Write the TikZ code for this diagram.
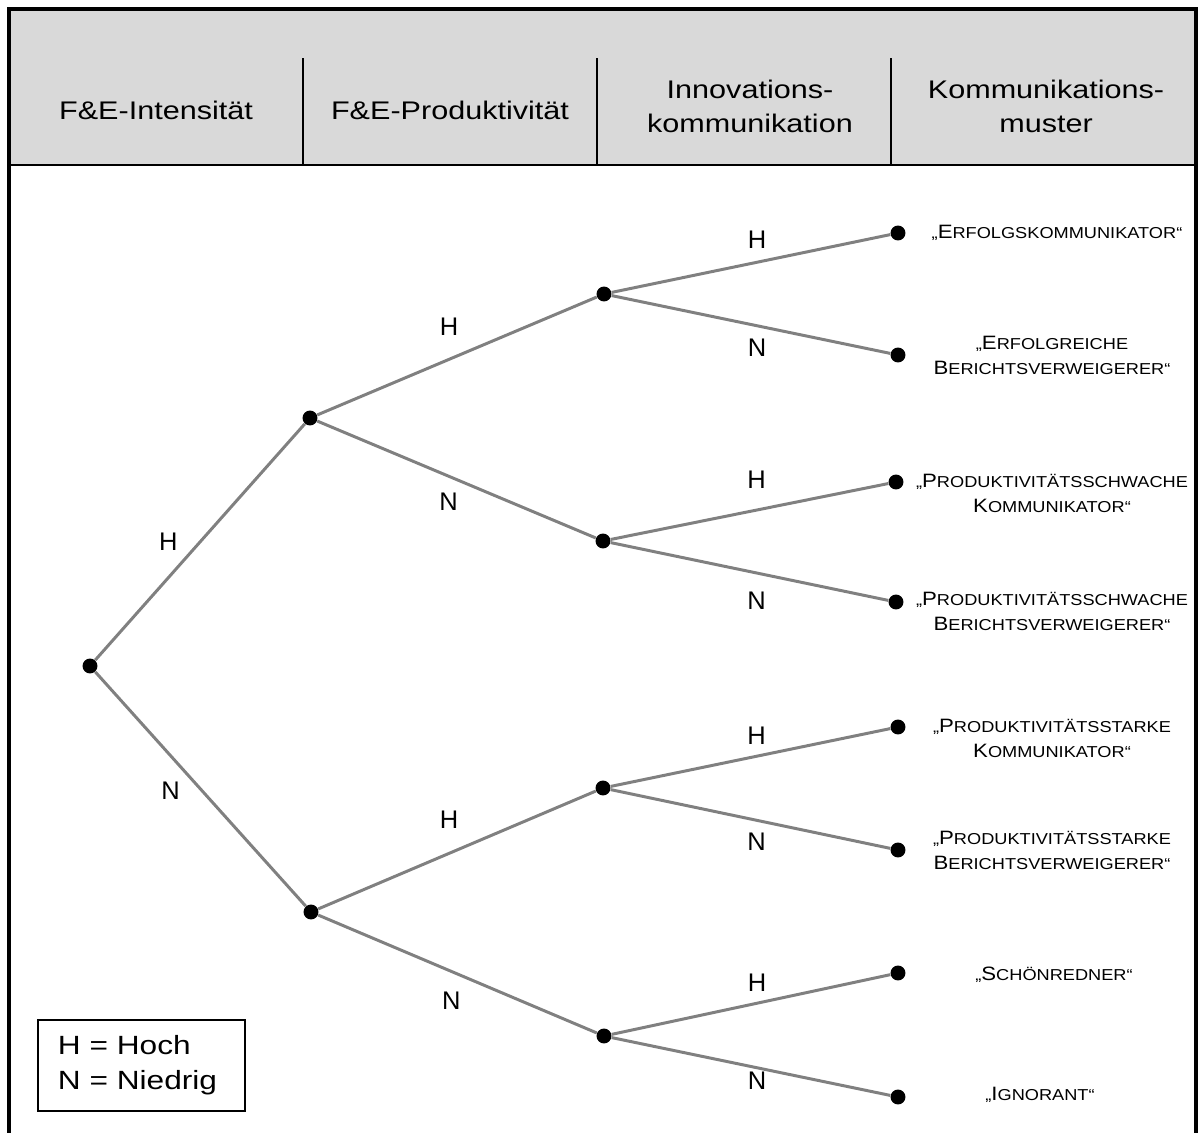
\documentclass[tikz,border=0pt]{standalone}
\usepackage{fontspec}
\setmainfont{Liberation Sans}
\newfontfamily\widefont[FakeStretch=1.2]{Liberation Sans}
\newfontfamily\capsfont[FakeStretch=1.15]{Liberation Sans}
\usetikzlibrary{positioning}

\definecolor{headgray}{RGB}{217,217,217}
\definecolor{branchgray}{RGB}{128,128,128}

\newcommand{\gross}[1]{{\fontsize{11pt}{14pt}\selectfont #1}}

\tikzset{
	dot/.style={circle,fill=black,inner sep=0pt,minimum size=8.5pt},
	branch/.style={draw=branchgray,line width=1.7pt},
	lbl/.style={font=\fontsize{14.5pt}{16pt}\selectfont,inner sep=0pt},
	head/.style={font=\widefont\fontsize{14.5pt}{19.3pt}\selectfont,align=center},
	leaf/.style={font=\capsfont\fontsize{9pt}{14.2pt}\selectfont,align=center,inner sep=0pt},
}

\begin{document}
\begin{tikzpicture}[x=0.2mm,y=-0.2mm]
	\useasboundingbox (0,0) rectangle (1199,1133);
	%
	\fill[headgray] (9,9) rectangle (1196,165);
	\draw[line width=2pt] (9,1150) -- (9,9) -- (1196,9) -- (1196,1150);
	\draw[line width=1.6pt] (9,165) -- (1196,165);
	\draw[line width=1.1pt] (303,58) -- (303,165);
	\draw[line width=1.1pt] (597,58) -- (597,165);
	\draw[line width=1.1pt] (891,58) -- (891,165);
	%
	\node[head] (h1) at (156,110) {F\&E-Intensität};
	\node[head] (h2) at (450,110) {F\&E-Produktivität};
	\node[head] (h3) at (750,106) {Innovations-\\kommunikation};
	\node[head] (h4) at (1046,106) {Kommunikations-\\muster};
	%
	\node[dot] (r0) at (90,666) {};
	\node[dot] (a1) at (310,418) {};
	\node[dot] (a2) at (311,912) {};
	\node[dot] (b1) at (604,294) {};
	\node[dot] (b2) at (603,541) {};
	\node[dot] (b3) at (603,788) {};
	\node[dot] (b4) at (604,1036) {};
	\node[dot] (c1) at (898,233) {};
	\node[dot] (c2) at (898,355) {};
	\node[dot] (c3) at (896,482) {};
	\node[dot] (c4) at (896,602) {};
	\node[dot] (c5) at (898,727) {};
	\node[dot] (c6) at (898,850) {};
	\node[dot] (c7) at (898,973) {};
	\node[dot] (c8) at (898,1097) {};
	%
	\draw[branch] (r0) -- node[lbl,xshift=-18pt] {H} (a1);
	\draw[branch] (r0) -- node[lbl,xshift=-17pt,yshift=-1pt] {N} (a2);
	\draw[branch] (a1) -- node[lbl,xshift=-4.5pt,yshift=16.5pt] {H} (b1);
	\draw[branch] (a1) -- node[lbl,xshift=-4.5pt,yshift=-12.5pt] {N} (b2);
	\draw[branch] (a2) -- node[lbl,xshift=-4.5pt,yshift=17pt] {H} (b3);
	\draw[branch] (a2) -- node[lbl,xshift=-3.5pt,yshift=-15pt] {N} (b4);
	\draw[branch] (b1) -- node[lbl,xshift=3.5pt,yshift=13.3pt] {H} (c1);
	\draw[branch] (b1) -- node[lbl,xshift=3.5pt,yshift=-13.3pt] {N} (c2);
	\draw[branch] (b2) -- node[lbl,xshift=4pt,yshift=18pt] {H} (c3);
	\draw[branch] (b2) -- node[lbl,xshift=4pt,yshift=-16.5pt] {N} (c4);
	\draw[branch] (b3) -- node[lbl,xshift=3.5pt,yshift=12.5pt] {H} (c5);
	\draw[branch] (b3) -- node[lbl,xshift=3.5pt,yshift=-13pt] {N} (c6);
	\draw[branch] (b4) -- node[lbl,xshift=3.5pt,yshift=12.5pt] {H} (c7);
	\draw[branch] (b4) -- node[lbl,xshift=3.5pt,yshift=-8pt] {N} (c8);
	%
	\node[leaf] (t1) at (1057,233) {„\gross{E}RFOLGSKOMMUNIKATOR“};
	\node[leaf] (t2) at (1052,355) {„\gross{E}RFOLGREICHE\\\gross{B}ERICHTSVERWEIGERER“};
	\node[leaf] (t3) at (1052,493) {„\gross{P}RODUKTIVITÄTSSCHWACHE\\\gross{K}OMMUNIKATOR“};
	\node[leaf] (t4) at (1052,611) {„\gross{P}RODUKTIVITÄTSSCHWACHE\\\gross{B}ERICHTSVERWEIGERER“};
	\node[leaf] (t5) at (1052,738) {„\gross{P}RODUKTIVITÄTSSTARKE\\\gross{K}OMMUNIKATOR“};
	\node[leaf] (t6) at (1052,850) {„\gross{P}RODUKTIVITÄTSSTARKE\\\gross{B}ERICHTSVERWEIGERER“};
	\node[leaf] (t7) at (1054,975) {„\gross{S}CHÖNREDNER“};
	\node[leaf] (t8) at (1040,1095) {„\gross{I}GNORANT“};
	%
	\node[draw,line width=1.1pt,text width=33.4mm,inner xsep=4mm,minimum height=18.2mm,
		align=left,font=\widefont\fontsize{15pt}{19.8pt}\selectfont] (key) at (141.5,1065.5)
		{H = Hoch\\N = Niedrig};
\end{tikzpicture}
\end{document}
